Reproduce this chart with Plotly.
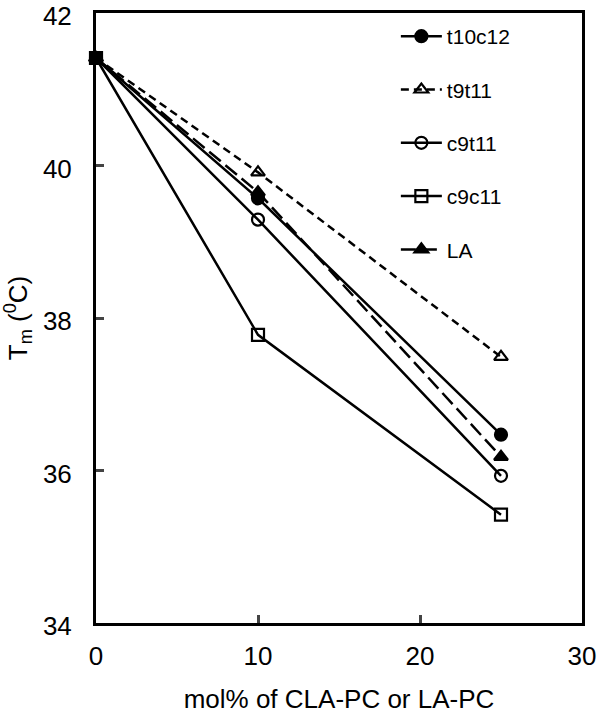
import plotly.graph_objects as go

x_vals = [0, 10, 25]
series_names = ["t10c12", "t9t11", "c9t11", "c9c11", "LA"]
t10c12 = [41.41, 39.57, 36.47]
t9t11 = [41.41, 39.91, 37.49]
c9t11 = [41.41, 39.29, 35.93]
c9c11 = [41.41, 37.78, 35.42]
LA = [41.41, 39.65, 36.18]

x_ticks = [0, 10, 20, 30]
y_ticks = [34, 36, 38, 40, 42]

styles = {
    "t10c12": dict(dash="solid", symbol="circle"),
    "t9t11": dict(dash="8px,5px", symbol="triangle-up-open"),
    "c9t11": dict(dash="solid", symbol="circle-open"),
    "c9c11": dict(dash="solid", symbol="square-open"),
    "LA": dict(dash="15px,6px", symbol="triangle-up"),
}
data = {"t10c12": t10c12, "t9t11": t9t11, "c9t11": c9t11, "c9c11": c9c11, "LA": LA}

fig = go.Figure()
for name in series_names:
    st = styles[name]
    fig.add_trace(go.Scatter(
        x=x_vals, y=data[name], name=name, mode="lines+markers",
        legendgroup=name,
        line=dict(color="black", width=2.5, dash=st["dash"]),
        marker=dict(symbol=st["symbol"], size=12, color="black",
                    line=dict(color="black", width=2.2)),
        cliponaxis=False,
    ))

fig.update_layout(
    width=604, height=724,
    margin=dict(l=96, r=22, t=13, b=101),
    plot_bgcolor="white", paper_bgcolor="white",
    font=dict(family="Liberation Sans, Arial, sans-serif", size=26, color="black"),
    showlegend=True,
    legend=dict(x=0.617, y=0.995, xanchor="left", yanchor="top",
                traceorder="grouped", tracegroupgap=23, itemwidth=41,
                font=dict(size=21, color="black"), bgcolor="rgba(0,0,0,0)"),
    xaxis=dict(range=[0, 30], tickvals=x_ticks, ticks="inside", ticklen=8,
               tickwidth=2.5, showline=True, linewidth=3, linecolor="black",
               mirror=True, showgrid=False, zeroline=False, automargin=False,
               ticklabeloverflow="allow",
               ticklabelstandoff=8, tickfont=dict(size=26, color="black"),
               title=dict(text="mol% of CLA-PC or LA-PC", standoff=20,
                          font=dict(size=26, color="black"))),
    yaxis=dict(range=[34, 42], tickvals=y_ticks, ticks="inside", ticklen=8,
               tickwidth=2.5, showline=True, linewidth=3, linecolor="black",
               mirror=True, showgrid=False, zeroline=False, automargin=False,
               ticklabeloverflow="allow", ticklabelshift=3,
               ticklabelstandoff=16, tickfont=dict(size=26, color="black"),
               title=dict(text="T<sub>m</sub> (<sup>0</sup>C)", standoff=12,
                          font=dict(size=26, color="black"))),
)

fig.write_html("out.html", config={"displayModeBar": False},
               post_script="document.body.style.margin='0';document.body.style.overflow='hidden';")
